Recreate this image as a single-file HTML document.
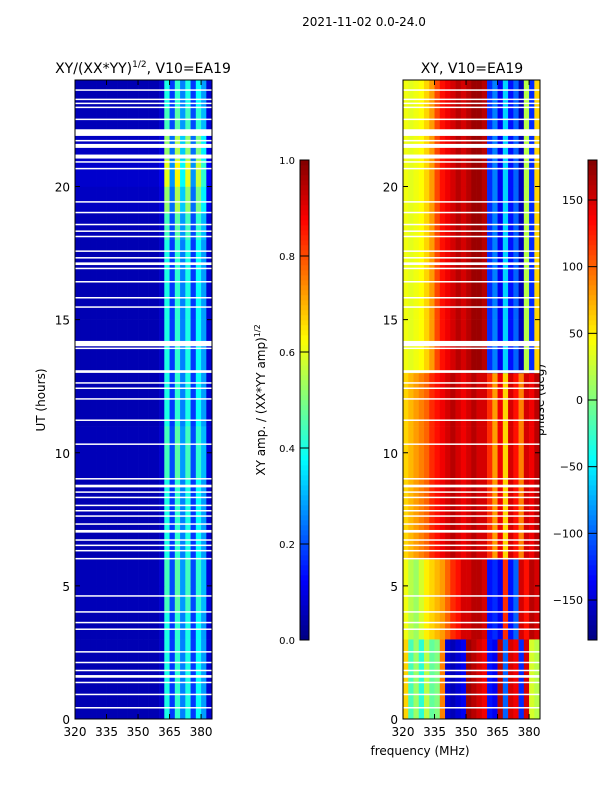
<!DOCTYPE html>
<html><head><meta charset="utf-8"><style>
body{margin:0;background:#fff;}
svg{display:block;font-family:"DejaVu Sans","Liberation Sans",sans-serif;}
</style></head><body>
<svg id="fig" width="600" height="800" viewBox="0 0 600 800">
<text x="364" y="26" font-size="12" text-anchor="middle">2021-11-02 0.0-24.0</text>
<text x="143" y="73" font-size="14" text-anchor="middle">XY/(XX*YY)<tspan font-size="9" dy="-6">1/2</tspan><tspan dy="6">, V10=EA19</tspan></text>
<text x="472" y="73" font-size="14" text-anchor="middle">XY, V10=EA19</text>
<text transform="translate(45,400) rotate(-90)" font-size="12" text-anchor="middle">UT (hours)</text>
<text transform="translate(265,400) rotate(-90)" font-size="12" text-anchor="middle">XY amp. / (XX*YY amp)<tspan font-size="8" dy="-5">1/2</tspan></text>
<text transform="translate(544,400) rotate(-90)" font-size="12" text-anchor="middle">phase (deg)</text>
<text x="420" y="755" font-size="12" text-anchor="middle">frequency (MHz)</text>
<g id="left"></g>
<g id="right"></g>
<g id="axes"></g>
<g id="cbars"></g>
</svg>
<script>
const freqBins=[320,322.5,325,327.5,330,332.5,335,337.5,340,342.5,345,347.5,350,352.5,355,357.5,360,362.5,365,367.5,370,372.5,375,377.5,380,382.5];
const ampProfile=[0.05,0.05,0.05,0.05,0.05,0.05,0.05,0.05,0.05,0.05,0.05,0.05,0.05,0.05,0.05,0.05,0.07,0.4,0.18,0.42,0.25,0.4,0.18,0.38,0.28,0.08];
const ampHourGain=[1,1,1,1,1.1,1.1,1,1,1,1.1,1.1,1,1,1,1,1,1,1,1.1,1.3,1.5,1.3,1.1,1];
const phaseLow=[60,-20,10,-30,20,-10,0,90,-150,-160,-150,-140,170,160,150,140,-130,-140,160,-100,150,140,-120,150,30,20];
const phaseMid=[40,20,10,30,50,60,70,80,100,120,130,150,150,160,160,150,-130,-120,-140,120,-130,-100,150,130,160,150];
const phaseMid2=[60,70,80,90,100,120,130,140,150,160,150,140,150,160,150,150,120,80,140,60,150,130,90,150,140,160];
const phaseTop=[40,35,40,45,60,80,110,130,140,150,160,150,160,170,170,160,-120,-90,-140,-60,-130,-100,-160,20,-120,60];
const hourZone=[0,0,0,1,1,1,2,2,2,2,2,2,2,3,3,3,3,3,3,3,3,3,3,3];
const flagged=[[23.6,23.65],[23.25,23.3],[23.1,23.15],[22.95,23.0],[22.5,22.55],[21.9,22.15],[21.7,21.75],[21.45,21.6],[21.05,21.2],[20.9,20.95],[20.65,20.7],[19.4,19.45],[19.0,19.05],[18.55,18.6],[18.3,18.35],[18.1,18.15],[17.55,17.6],[17.3,17.35],[17.05,17.15],[16.9,16.95],[16.4,16.45],[15.8,15.85],[15.45,15.5],[14.0,14.2],[13.9,13.95],[13.0,13.1],[12.6,12.65],[12.4,12.45],[12.0,12.05],[11.2,11.25],[10.3,10.35],[9.0,9.05],[8.7,8.8],[8.5,8.55],[8.3,8.35],[8.0,8.05],[7.8,7.85],[7.6,7.65],[7.3,7.35],[7.0,7.1],[6.7,6.75],[6.5,6.55],[6.3,6.35],[6.0,6.05],[4.6,4.65],[4.0,4.05],[3.6,3.65],[3.35,3.4],[2.5,2.55],[2.1,2.15],[1.8,1.85],[1.55,1.65],[1.35,1.4],[0.9,0.95],[0.4,0.45]];
const xTicks=[320,335,350,365,380];
const yTicks=[0,5,10,15,20];
const ampTicks=[0.0,0.2,0.4,0.6,0.8,1.0];
const phaseTicks=[-150,-100,-50,0,50,100,150];

const NS="http://www.w3.org/2000/svg";
const F0=320,F1=385.2,T0=0,T1=24;
function xs(f,x0){return x0+(f-F0)/(F1-F0)*137;}
function ys(t){return 719-(t-T0)/(T1-T0)*639;}
function jet(v){v=Math.max(0,Math.min(1,v));
 const r=Math.min(4*v-1.5,-4*v+4.5),g=Math.min(4*v-0.5,-4*v+3.5),b=Math.min(4*v+0.5,-4*v+2.5);
 const c=x=>Math.round(255*Math.max(0,Math.min(1,x)));return `rgb(${c(r)},${c(g)},${c(b)})`;}
function mk(tag,at,parent){const e=document.createElementNS(NS,tag);for(const k in at)e.setAttribute(k,at[k]);parent.appendChild(e);return e;}
const zones=[phaseLow,phaseMid,phaseMid2,phaseTop];
const L=document.getElementById('left'),R=document.getElementById('right');
for(let h=0;h<24;h++){
 const y0=ys(h+1),y1=ys(h);
 for(let j=0;j<freqBins.length;j++){
  const fa=freqBins[j],fb=fa+2.5;
  let r=mk('rect',{x:xs(fa,75),y:y0,width:xs(Math.min(fb,F1),75)-xs(fa,75)+0.3,height:y1-y0+0.3,fill:jet(ampProfile[j]*ampHourGain[h])},L);
  
  
  let p=mk('rect',{x:xs(fa,403),y:y0,width:xs(Math.min(fb,F1),403)-xs(fa,403)+0.3,height:y1-y0+0.3,fill:jet((zones[hourZone[h]][j]+180)/360)},R);
  
  
 }
}
const A=document.getElementById('axes');
[[75,L],[403,R]].forEach(([x0,g])=>{
 flagged.forEach(fl=>{
  let w=mk('rect',{x:x0,y:ys(fl[1]),width:137,height:Math.max(1.5,ys(fl[0])-ys(fl[1])),fill:'#fff'},g);
  
  
 });
 let fr=mk('rect',{x:x0,y:80,width:137,height:639,fill:'none',stroke:'#000','stroke-width':1},A);
 
 
 xTicks.forEach(t=>{const x=xs(t,x0);
  mk('line',{x1:x,x2:x,y1:719,y2:714,stroke:'#000'},A);mk('line',{x1:x,x2:x,y1:80,y2:85,stroke:'#000'},A);
  let tx=mk('text',{x:x,y:736,'font-size':12,'text-anchor':'middle'},A);tx.textContent=t;
  
  });
 yTicks.forEach(t=>{const y=ys(t);
  mk('line',{x1:x0,x2:x0+5,y1:y,y2:y,stroke:'#000'},A);mk('line',{x1:x0+137,x2:x0+132,y1:y,y2:y,stroke:'#000'},A);
  let tx=mk('text',{x:x0-5,y:y+5,'font-size':12,'text-anchor':'end'},A);tx.textContent=t;
  
  });
});
const C=document.getElementById('cbars');
for(let i=0;i<96;i++){
 const v=i/96;
 let r=mk('rect',{x:300,y:640-(i+1)*5,width:9,height:5.3,fill:jet(v+0.005)},C);
 
 
 let r2=mk('rect',{x:588,y:640-(i+1)*5,width:9,height:5.3,fill:jet(v+0.005)},C);
 
 
}
mk('rect',{x:300,y:160,width:9,height:480,fill:'none',stroke:'#000'},C);
mk('rect',{x:588,y:160,width:9,height:480,fill:'none',stroke:'#000'},C);
ampTicks.forEach(t=>{const y=640-t*480;
 mk('line',{x1:300,x2:309,y1:y,y2:y,stroke:'#000'},C);
 let tx=mk('text',{x:295,y:y+4,'font-size':10,'text-anchor':'end'},C);tx.textContent=t.toFixed(1);
 
 });
phaseTicks.forEach(t=>{const y=400-t*480/360;
 mk('line',{x1:588,x2:597,y1:y,y2:y,stroke:'#000'},C);
 let tx=mk('text',{x:583,y:y+4,'font-size':11,'text-anchor':'end'},C);tx.textContent=t<0?'\u2212'+(-t):t;
 
 });
</script>
</body></html>
